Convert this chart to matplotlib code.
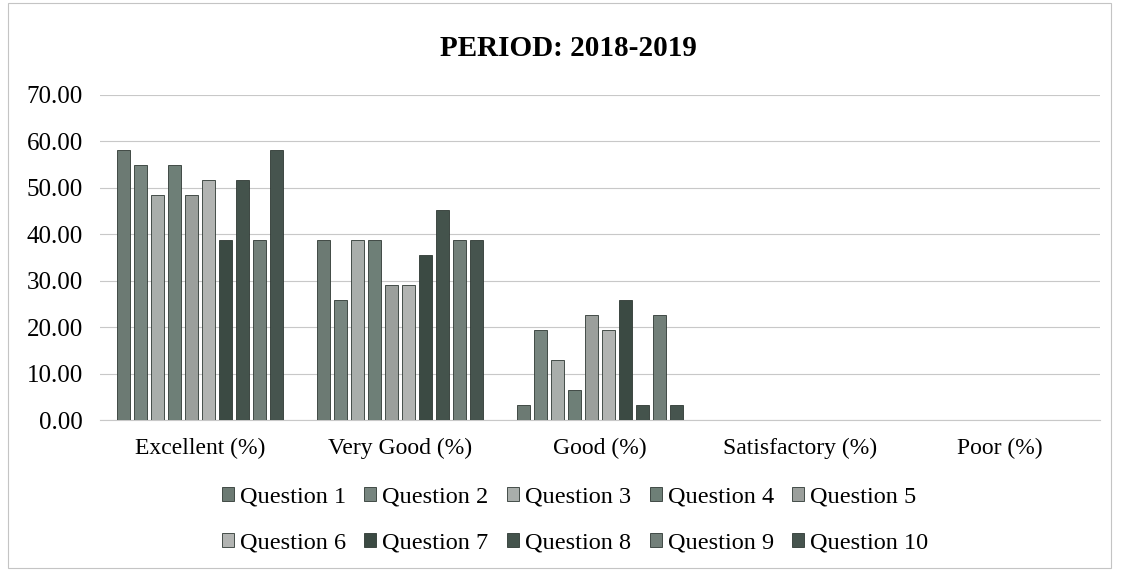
import matplotlib
matplotlib.use("Agg")
import matplotlib.pyplot as plt
import numpy as np

plt.rcParams['font.family'] = ['Liberation Serif', 'DejaVu Serif']

categories = ["Excellent (%)", "Very Good (%)", "Good (%)", "Satisfactory (%)", "Poor (%)"]
questions = [f"Question {i}" for i in range(1, 11)]
values = {
    "Question 1": [58.06, 38.71, 3.23, 0, 0],
    "Question 2": [54.84, 25.81, 19.35, 0, 0],
    "Question 3": [48.39, 38.71, 12.90, 0, 0],
    "Question 4": [54.84, 38.71, 6.45, 0, 0],
    "Question 5": [48.39, 29.03, 22.58, 0, 0],
    "Question 6": [51.61, 29.03, 19.35, 0, 0],
    "Question 7": [38.71, 35.48, 25.81, 0, 0],
    "Question 8": [51.61, 45.16, 3.23, 0, 0],
    "Question 9": [38.71, 38.71, 22.58, 0, 0],
    "Question 10": [58.06, 38.71, 3.23, 0, 0],
}
colors = ["#6c7a73", "#77857f", "#a9aeab", "#6e7f77", "#9b9f9c",
          "#b2b4b2", "#3b4a43", "#44534c", "#727f79", "#46544e"]
yticks = [0, 10, 20, 30, 40, 50, 60, 70]

fig = plt.figure(figsize=(11.21, 5.71), dpi=100)
ax = fig.add_axes([0.089, 0.264, 0.892, 0.57])

x = np.arange(len(categories))
n = len(questions)
slot = 0.85 / n
handles = []
for i, q in enumerate(questions):
    h = ax.bar(x - 0.425 + slot * (i + 0.5), values[q], width=slot * 0.76,
               color=colors[i], edgecolor="#2e3833", linewidth=0.6, label=q, zorder=3)
    handles.append(h)

ax.set_xlim(-0.5, len(categories) - 0.5)
ax.set_ylim(0, 70)
ax.set_yticks(yticks)
ax.set_yticklabels([f"{v:.2f}" for v in yticks], fontsize=18)
ax.set_xticks(x)
ax.set_xticklabels(categories, fontsize=17)
ax.tick_params(axis="x", length=0, pad=13)
ax.tick_params(axis="y", length=0, pad=12)
ax.grid(axis="y", color="#c8c8c8", linewidth=0.8, zorder=0)
for s in ["top", "right", "left"]:
    ax.spines[s].set_visible(False)
ax.spines["bottom"].set_color("#c8c8c8")

fig.text(0.507, 0.915, "PERIOD: 2018-2019", ha="center", va="center",
         fontsize=21, fontweight="bold")

order = [0, 5, 1, 6, 2, 7, 3, 8, 4, 9]
fig.legend([handles[k] for k in order], [questions[k] for k in order],
           loc="center", bbox_to_anchor=(0.513, 0.089), ncol=5, frameon=False,
           fontsize=17.5, handlelength=0.5, handleheight=0.5, handletextpad=0.25,
           columnspacing=0.75, labelspacing=1.05, borderaxespad=0)

fig.patches.append(plt.Rectangle((0.007, 0.005), 0.984, 0.99, transform=fig.transFigure,
                                 fill=False, edgecolor="#c4c4c4", linewidth=0.8))

fig.savefig("out.png", dpi=100)
